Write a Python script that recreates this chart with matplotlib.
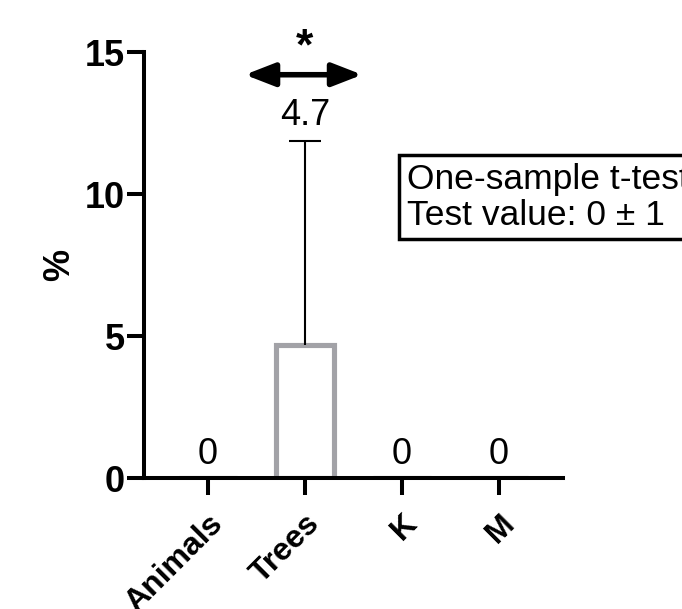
import matplotlib
matplotlib.use("Agg")
import matplotlib.pyplot as plt

plt.rcParams['font.family'] = ['Liberation Sans', 'DejaVu Sans']

categories = ["Animals", "Trees", "K", "M"]
means = [0, 4.7, 0, 0]
sd_upper = [0, 7.15, 0, 0]
y_ticks = [0, 5, 10, 15]

fig = plt.figure(figsize=(6.82, 6.09), dpi=100)
ax = fig.add_axes([0.2111, 0.2151, 0.6144, 0.6995])

x = list(range(len(categories)))
bar_color = "#a2a2a7"
ax.bar(x, means, width=0.6, facecolor="white", edgecolor=bar_color,
       linewidth=3.7, zorder=2)

cap_half = 0.165
for xi, m, e in zip(x, means, sd_upper):
    if e > 0:
        # upper-only error bar: stem from the bar top, cap at mean + SD
        ax.vlines(xi, m, m + e, colors="black", linewidth=1.5, zorder=3)
        ax.hlines(m + e, xi - cap_half, xi + cap_half, colors="black",
                  linewidth=1.5, zorder=3)
        ax.text(xi, m + e + 0.3, f"{m:g}", ha="center", va="bottom",
                fontsize=26)
    else:
        ax.text(xi, m + 0.2, f"{m:g}", ha="center", va="bottom",
                fontsize=26)

# significance marker over Trees
ax.annotate("", xy=(0.38, 14.2), xytext=(1.59, 14.2),
            arrowprops=dict(arrowstyle="<|-|>,head_length=1.8,head_width=0.7",
                            color="black", lw=4.0, shrinkA=0, shrinkB=0),
            annotation_clip=False)
ax.text(0.99, 15.15, "*", ha="center", va="center", fontsize=32,
        fontweight="bold")

ax.set_xlim(-0.66, 3.66)
ax.set_ylim(0, 15)
ax.set_yticks(y_ticks)
ax.set_yticklabels([str(t) for t in y_ticks], fontsize=26, fontweight="bold")
ax.set_xticks(x)
ax.set_xticklabels(categories, rotation=45, ha="right", rotation_mode="anchor",
                   fontsize=23, fontweight="bold")
ax.set_ylabel("%", fontsize=26, fontweight="bold", labelpad=5)

for s in ["top", "right"]:
    ax.spines[s].set_visible(False)
for s in ["left", "bottom"]:
    ax.spines[s].set_linewidth(2.9)
ax.tick_params(axis="both", width=2.9, length=12, pad=2)
ax.tick_params(axis="x", pad=10)

fig.text(0.597, 0.676, "One-sample t-test\nTest value: 0 \u00b1 1",
         fontsize=25.5, ha="left", va="center", linespacing=1.1,
         bbox=dict(boxstyle="square,pad=0.22", facecolor="white",
                   edgecolor="black", linewidth=2.5))

fig.savefig("out.png", dpi=100)
